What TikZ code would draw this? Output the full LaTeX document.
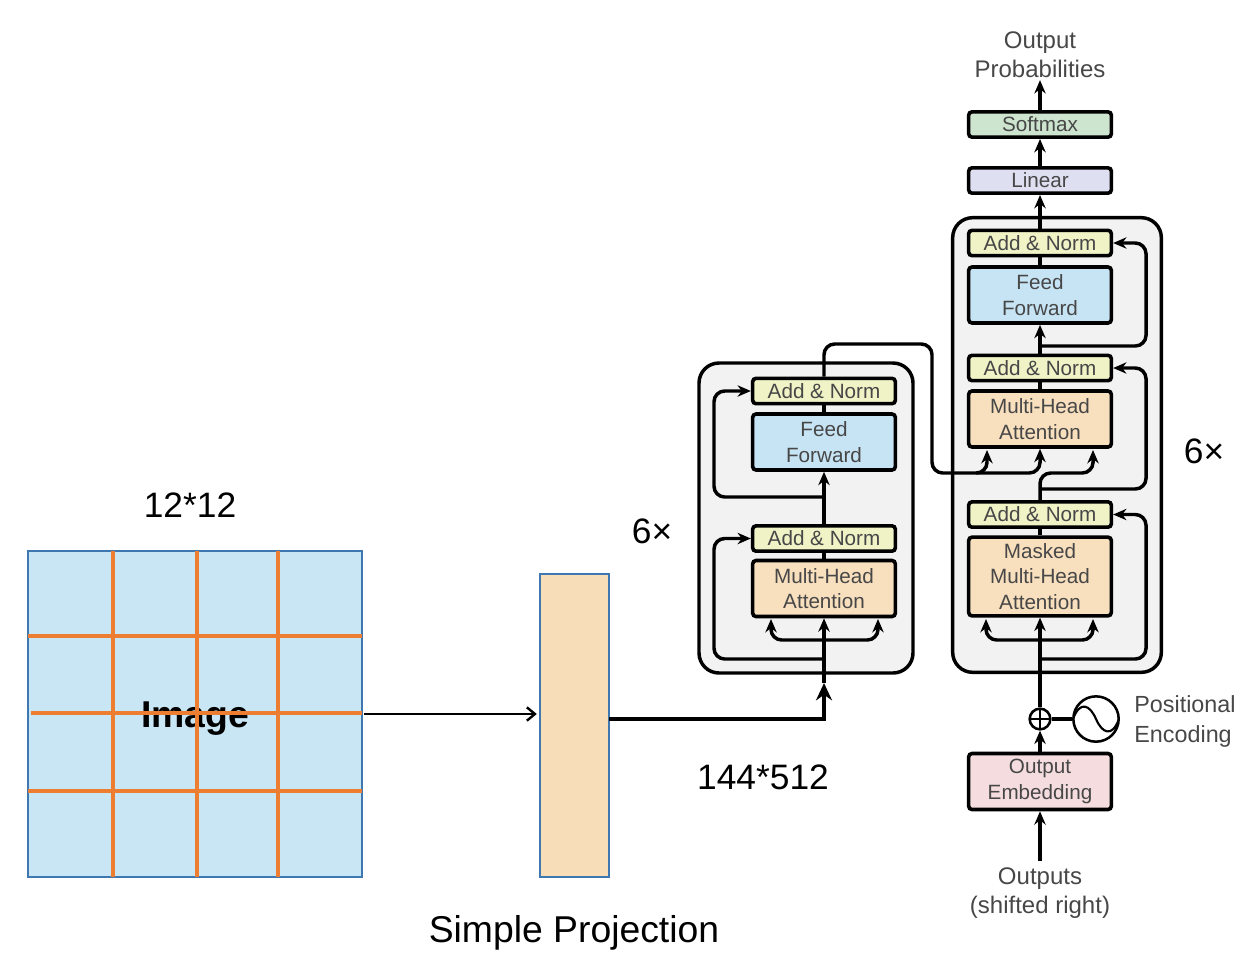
\documentclass[tikz,border=0pt]{standalone}
\usepackage{fontspec}
\setmainfont{Liberation Sans}
\usetikzlibrary{arrows.meta}
\definecolor{normfill}{HTML}{EFF3C6}
\definecolor{feedfill}{HTML}{C6E4F4}
\definecolor{attnfill}{HTML}{F8DFBE}
\definecolor{embedfill}{HTML}{F5DDDF}
\definecolor{linearfill}{HTML}{DEE0F2}
\definecolor{softfill}{HTML}{CDE4CE}
\definecolor{panelfill}{HTML}{F2F2F3}
\definecolor{imagefill}{HTML}{C9E6F5}
\definecolor{projfill}{HTML}{F7DDB8}
\definecolor{edgeblue}{HTML}{3F78B0}
\definecolor{gridorange}{HTML}{ED7D31}
\begin{document}
\begin{tikzpicture}[x=0.75pt,y=-0.75pt,>={Stealth[length=10pt,width=8.5pt]}]
\tikzset{tbox/.style={draw, line width=2.7pt, rounded corners=2.5pt, inner sep=0pt, minimum width=107pt, text=black!72, align=center, font=\fontsize{15.5}{19}\selectfont}}
\tikzset{normbox/.style={tbox, fill=normfill, minimum height=19pt}}
\tikzset{feedbox/.style={tbox, fill=feedfill, minimum height=42pt}}
\tikzset{attnbox/.style={tbox, fill=attnfill, minimum height=42pt}}
\tikzset{panel/.style={draw, line width=2.6pt, rounded corners=15pt, fill=panelfill, inner sep=0pt}}
\tikzset{lbl/.style={text=black!72, align=center, inner sep=0pt, font=\fontsize{18}{22}\selectfont}}
\tikzset{big/.style={inner sep=0pt, font=\fontsize{26.5}{30}\selectfont}}
\tikzset{conn/.style={line width=2.6pt, rounded corners=8pt}}
\tikzset{flat/.style={draw=edgeblue, line width=1.1pt, inner sep=0pt}}
\tikzset{gridline/.style={draw=gridorange, line width=2.6pt}}
\useasboundingbox (0,0) rectangle (1255,958);
\node[panel, minimum width=160.5pt, minimum height=232.5pt] (EP) at (806,518) {};
\node[panel, minimum width=156.5pt, minimum height=341pt] (DP) at (1057,445) {};
\node[flat, fill=imagefill, minimum width=250.5pt, minimum height=244.5pt] (IM) at (195,714) {};
\node[inner sep=0pt, font=\bfseries\fontsize{28}{30}\selectfont] (IT) at (195,719) {Image};
\foreach \gx in {113,197,278}
  \draw[gridline] (\gx,551) -- (\gx,877);
\foreach \gy/\gs in {636/28,713/31,791/28}
  \draw[gridline] (\gs,\gy) -- (362,\gy);
\node[flat, fill=projfill, minimum width=51.5pt, minimum height=227pt] (PJ) at (574.5,725.5) {};
\node[big] (GS) at (190,505) {12*12};
\node[big] (SP) at (574,933) {\fontsize{28}{30}\selectfont Simple Projection};
\node[big] (DM) at (763,777) {144*512};
\node[big] (EX) at (652,531) {6×};
\node[big] (DX) at (1204,451) {6×};
\node[attnbox] (EM) at (824,588.5) {Multi-Head\\Attention};
\node[normbox] (EN1) at (824,538.5) {Add \& Norm};
\node[feedbox] (EF) at (824,442) {Feed\\Forward};
\node[normbox] (EN2) at (824,391) {Add \& Norm};
\node[attnbox, minimum height=59pt] (DM1) at (1040,576.5) {Masked\\Multi-Head\\Attention};
\node[normbox] (DN1) at (1040,514.5) {Add \& Norm};
\node[attnbox] (DM2) at (1040,419) {Multi-Head\\Attention};
\node[normbox] (DN2) at (1040,368) {Add \& Norm};
\node[feedbox] (DF) at (1040,295) {Feed\\Forward};
\node[normbox] (DN3) at (1040,243) {Add \& Norm};
\node[tbox, fill=linearfill, minimum height=19pt] (LI) at (1040,180.5) {Linear};
\node[tbox, fill=softfill, minimum height=19pt] (SM) at (1040,124.5) {Softmax};
\node[lbl, outer sep=1.5pt] (OP) at (1040,55) {Output\\Probabilities};
\node[tbox, fill=embedfill, minimum height=42pt] (OE) at (1040,781.5) {Output\\Embedding};
\node[lbl, outer sep=5pt] (OS) at (1040,893) {Outputs\\(shifted right)};
\node[lbl, align=left, font=\fontsize{17.5}{22.5}\selectfont] (PE) at (1185,721) {Positional\\Encoding};
\node[draw, circle, line width=1.9pt, inner sep=0pt, minimum size=15.5pt, path picture={
  \draw[line width=1.6pt, shift={(path picture bounding box.center)}] (-12,0) -- (12,0) (0,-12) -- (0,12);}] (PL) at (1040,719) {};
\node[draw, circle, line width=1.9pt, inner sep=0pt, minimum size=34pt, path picture={
  \draw[line width=1.6pt, shift={(path picture bounding box.center)}] (-23,0) .. controls (-16,-19) and (-6,-14) .. (0,0) .. controls (6,14) and (16,19) .. (23,0);}] (SN) at (1096,719) {};
\coordinate (PO) at (609,719);
\coordinate (EI) at (824,683);
\coordinate (EB1) at (824,659);
\coordinate (EK1) at (714,659);
\coordinate (EB2) at (824,497);
\coordinate (EK2) at (714,497);
\coordinate (EA) at (824,640);
\coordinate (EL) at (771,619);
\coordinate (ER) at (878,619);
\coordinate (CR1) at (824,344);
\coordinate (CR2) at (932,344);
\coordinate (CR3) at (932,473);
\coordinate (CA) at (977,473);
\coordinate (DA1) at (987,450);
\coordinate (DA3) at (1093,450);
\coordinate (DC) at (1093,473);
\coordinate (DT) at (1040,473);
\coordinate (DB1) at (1040,659);
\coordinate (DB2) at (1040,489);
\coordinate (DB3) at (1040,346);
\coordinate (DK1) at (1146,659);
\coordinate (DK2) at (1146,489);
\coordinate (DK3) at (1146,346);
\coordinate (DA) at (1040,640);
\coordinate (DL) at (986,619);
\coordinate (DR) at (1093,619);
\draw[line width=1.8pt, -{Straight Barb[length=6pt,width=10pt]}, shorten >=2pt, shorten <=1pt] (IM.east) -- (IM.east -| PJ.west);
\draw[line width=3.2pt, -{Stealth[length=13pt,width=12pt]}] (PO) -| (EI);
\draw[conn, ->] (EI) -- (EM.south);
\draw[conn, ->] (EA) -| (EL);
\draw[conn, ->] (EA) -| (ER);
\draw[conn, ->] (EB1) -- (EK1) |- (EN1.west);
\draw[conn, ->] (EB2) -- (EK2) |- (EN2.west);
\draw[conn] (EM.north) -- (EN1.south);
\draw[conn, ->] (EN1.north) -- (EF.south);
\draw[conn] (EF.north) -- (EN2.south);
\draw[conn, ->] (EN2.north) -- (CR1) -- (CR2) -- (CR3) -- (DT) -- (DM2.south);
\draw[conn, ->] (CA) -- (CA -| DA1) -- (DA1);
\draw[conn, ->] (DN1.north) -- (DT) -- (DC) -- (DA3);
\draw[conn] (DM1.north) -- (DN1.south);
\draw[conn] (DM2.north) -- (DN2.south);
\draw[conn, ->] (DN2.north) -- (DF.south);
\draw[conn] (DF.north) -- (DN3.south);
\draw[conn, ->] (DN3.north) -- (LI.south);
\draw[conn, ->] (LI.north) -- (SM.south);
\draw[conn, ->] (SM.north) -- (OP.south);
\draw[conn, ->] (DB1) -- (DK1) |- (DN1.east);
\draw[conn, ->] (DB2) -- (DK2) |- (DN2.east);
\draw[conn, ->] (DB3) -- (DK3) |- (DN3.east);
\draw[conn, ->] (DA) -| (DL);
\draw[conn, ->] (DA) -| (DR);
\draw[conn, ->] (PL.north) -- (DM1.south);
\draw[conn, ->] (OE.north) -- (PL.south);
\draw[conn] (PL.east) -- (SN.west);
\draw[conn, ->] (OS.north) -- (OE.south);
\end{tikzpicture}
\end{document}
